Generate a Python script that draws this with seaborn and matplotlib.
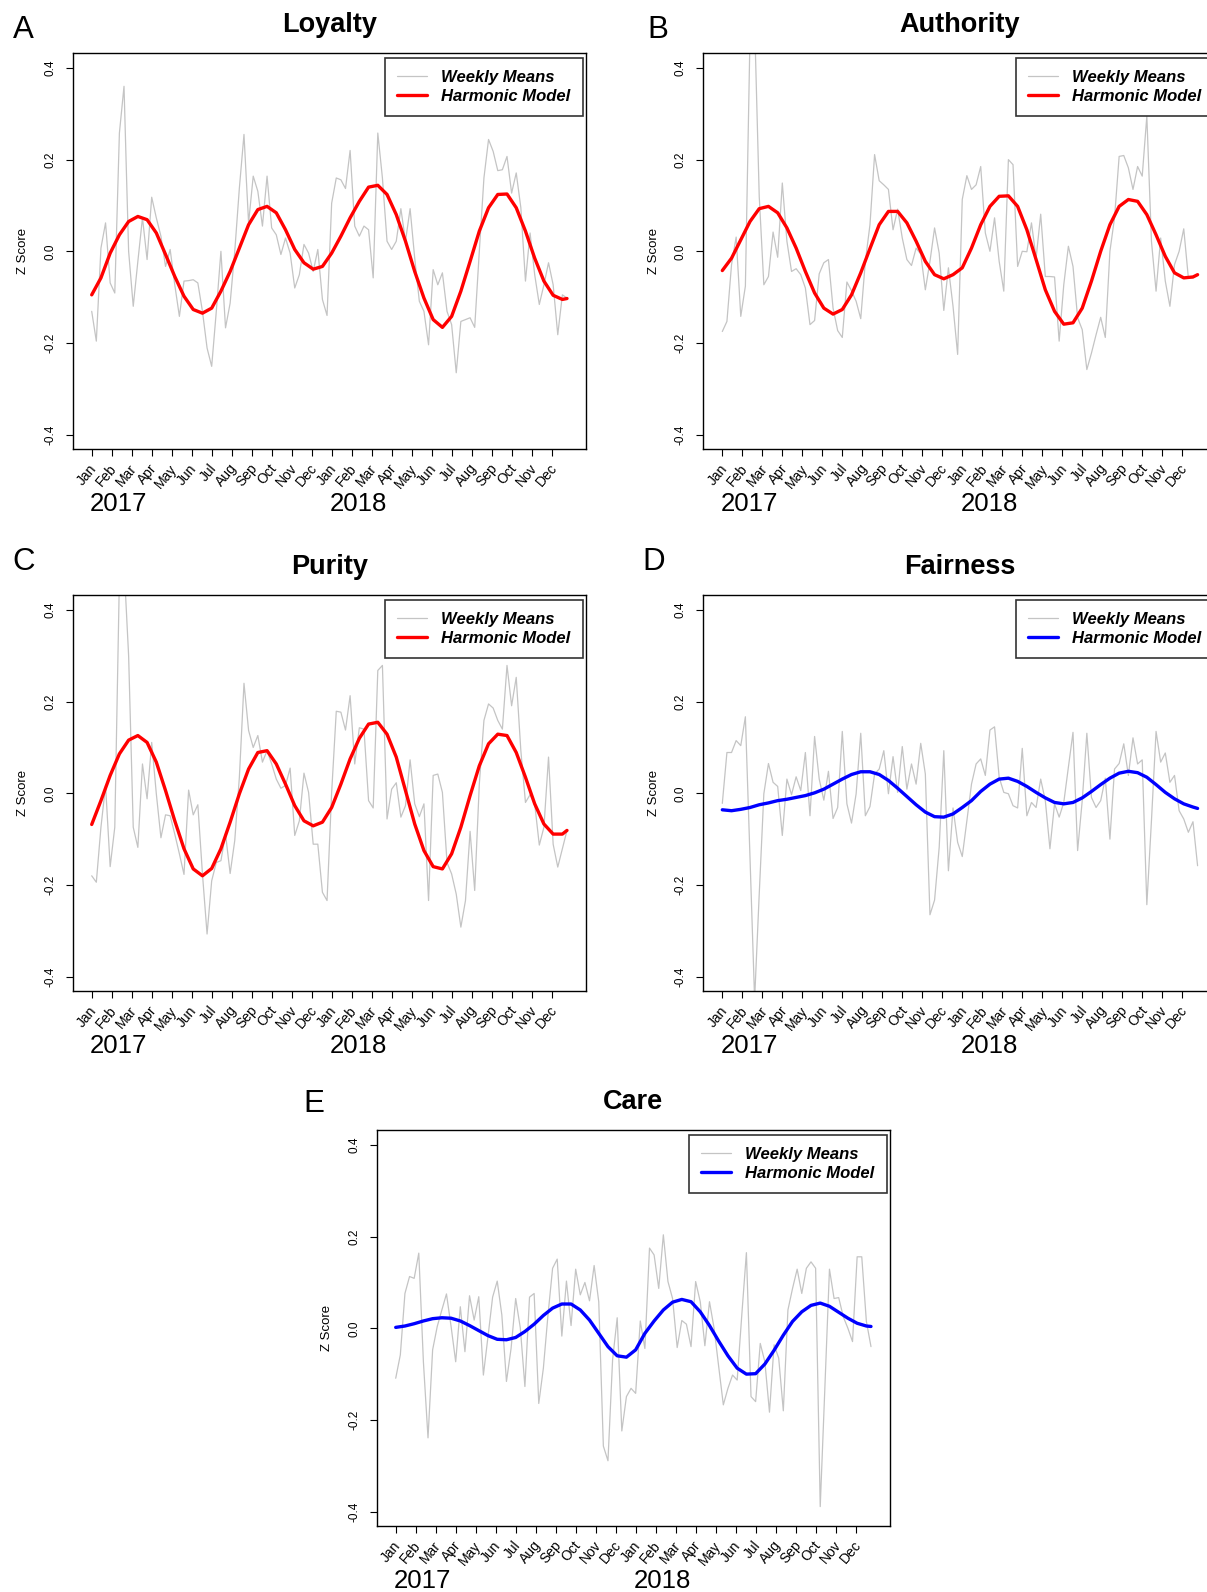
import numpy as np
import matplotlib
matplotlib.use("Agg")
import matplotlib.pyplot as plt
import matplotlib.transforms as mtransforms
import seaborn as sns

sns.set_style("white")
plt.rcParams['font.family'] = ['Liberation Sans', 'DejaVu Sans']
plt.rcParams['text.color'] = 'black'
plt.rcParams['axes.labelcolor'] = 'black'
plt.rcParams['xtick.color'] = 'black'
plt.rcParams['ytick.color'] = 'black'

# ---------------- data ----------------
months = ["Jan", "Feb", "Mar", "Apr", "May", "Jun", "Jul", "Aug", "Sep", "Oct", "Nov", "Dec"]
years = ["2017", "2018"]
weeks = list(range(1, 105))
model_weeks = list(range(1, 104, 2)) + [104]

titles = ["Loyalty", "Authority", "Purity", "Fairness", "Care"]
letters = ["A", "B", "C", "D", "E"]
model_colors = ["#FF0000", "#FF0000", "#FF0000", "#0000FF", "#0000FF"]

loyalty_weekly = [
    -0.131, -0.196, 0.007, 0.062, -0.069, -0.091, 0.258, 0.360, 0.000, -0.120,
    -0.022, 0.073, -0.018, 0.118, 0.073, 0.033, -0.033, 0.004, -0.073, -0.142,
    -0.065, -0.064, -0.062, -0.069, -0.131, -0.211, -0.251, -0.131, 0.000, -0.167,
    -0.113, 0.000, 0.138, 0.255, 0.062, 0.164, 0.131, 0.055, 0.164, 0.051,
    0.036, -0.007, 0.029, -0.004, -0.080, -0.051, 0.015, -0.004, -0.044, 0.004,
    -0.105, -0.140, 0.105, 0.160, 0.156, 0.137, 0.220, 0.055, 0.033, 0.055,
    0.047, -0.058, 0.258, 0.160, 0.022, 0.004, 0.022, 0.093, 0.022, 0.093,
    -0.015, -0.109, -0.131, -0.204, -0.040, -0.073, -0.047, -0.131, -0.160, -0.265,
    -0.153, -0.149, -0.145, -0.166, 0.000, 0.160, 0.244, 0.218, 0.176, 0.178,
    0.207, 0.127, 0.171, 0.095, -0.065, 0.040, -0.051, -0.116, -0.073, -0.025,
    -0.073, -0.182, -0.095, -0.102]
loyalty_model = [
    -0.095, -0.058, -0.004, 0.036, 0.065, 0.076, 0.069, 0.040, -0.007, -0.055,
    -0.098, -0.127, -0.135, -0.124, -0.087, -0.044, 0.007, 0.058, 0.091, 0.098,
    0.084, 0.047, 0.004, -0.025, -0.039, -0.033,
    -0.004, 0.033, 0.073, 0.109, 0.140, 0.144, 0.124, 0.080, 0.022, -0.044,
    -0.102, -0.149, -0.166, -0.142, -0.087, -0.022, 0.044, 0.095, 0.124, 0.125,
    0.095, 0.044, -0.015, -0.065, -0.096, -0.105, -0.103]

authority_weekly = [
    -0.175, -0.153, -0.029, 0.031, -0.142, -0.076, 0.470, 0.500, 0.120, -0.073,
    -0.055, 0.042, -0.013, 0.149, 0.022, -0.044, -0.038, -0.051, -0.080, -0.160,
    -0.151, -0.049, -0.025, -0.018, -0.124, -0.173, -0.188, -0.067, -0.086, -0.109,
    -0.147, -0.022, 0.058, 0.211, 0.154, 0.145, 0.135, 0.047, 0.092, 0.029,
    -0.018, -0.031, 0.007, -0.006, -0.084, -0.022, 0.051, -0.004, -0.129, -0.036,
    -0.120, -0.225, 0.113, 0.165, 0.135, 0.145, 0.185, 0.040, 0.000, 0.073,
    -0.022, -0.087, 0.200, 0.189, -0.033, 0.000, -0.001, 0.062, -0.015, 0.081,
    -0.055, -0.055, -0.056, -0.196, -0.073, 0.011, -0.033, -0.145, -0.171, -0.258,
    -0.222, -0.182, -0.144, -0.188, 0.000, 0.073, 0.207, 0.209, 0.182, 0.135,
    0.185, 0.164, 0.295, 0.022, -0.087, 0.029, -0.065, -0.120, -0.029, 0.000,
    0.049, -0.058, -0.058, -0.051]
authority_model = [
    -0.042, -0.015, 0.025, 0.065, 0.093, 0.098, 0.084, 0.051, 0.007, -0.044,
    -0.091, -0.124, -0.137, -0.127, -0.095, -0.047, 0.006, 0.058, 0.087, 0.087,
    0.062, 0.022, -0.022, -0.051, -0.060, -0.051,
    -0.036, 0.007, 0.058, 0.098, 0.120, 0.121, 0.098, 0.047, -0.018, -0.084,
    -0.131, -0.159, -0.156, -0.124, -0.065, 0.000, 0.058, 0.098, 0.113, 0.109,
    0.080, 0.036, -0.011, -0.047, -0.058, -0.056, -0.051]

purity_weekly = [
    -0.180, -0.194, -0.074, 0.017, -0.160, -0.074, 0.470, 0.500, 0.300, -0.074,
    -0.118, 0.064, -0.012, 0.111, -0.001, -0.097, -0.047, -0.049, -0.089, -0.132,
    -0.177, 0.007, -0.047, -0.025, -0.176, -0.307, -0.191, -0.151, -0.147, -0.089,
    -0.175, -0.103, 0.035, 0.240, 0.137, 0.100, 0.126, 0.068, 0.093, 0.064,
    0.031, 0.011, 0.017, 0.055, -0.092, -0.060, 0.044, 0.002, -0.111, -0.111,
    -0.216, -0.234, 0.002, 0.179, 0.177, 0.138, 0.213, 0.064, 0.143, 0.140,
    -0.016, -0.032, 0.268, 0.279, -0.056, 0.009, 0.023, -0.052, -0.027, 0.073,
    -0.023, -0.051, -0.023, -0.234, 0.039, 0.042, 0.002, -0.151, -0.176, -0.220,
    -0.292, -0.234, -0.083, -0.212, 0.020, 0.159, 0.195, 0.186, 0.159, 0.140,
    0.279, 0.191, 0.253, 0.093, -0.020, -0.003, -0.023, -0.113, -0.074, 0.079,
    -0.111, -0.161, -0.121, -0.081]
purity_model = [
    -0.068, -0.016, 0.039, 0.086, 0.116, 0.126, 0.111, 0.068, 0.006, -0.060,
    -0.121, -0.165, -0.180, -0.164, -0.121, -0.063, -0.001, 0.053, 0.089, 0.093,
    0.064, 0.020, -0.027, -0.060, -0.071, -0.063,
    -0.031, 0.020, 0.075, 0.120, 0.151, 0.155, 0.129, 0.079, 0.006, -0.067,
    -0.125, -0.160, -0.165, -0.132, -0.074, -0.005, 0.060, 0.108, 0.129, 0.126,
    0.089, 0.035, -0.023, -0.067, -0.089, -0.089, -0.081]

fairness_weekly = [
    -0.022, 0.089, 0.089, 0.115, 0.104, 0.167, -0.140, -0.450, -0.220, -0.001,
    0.065, 0.024, 0.015, -0.092, 0.031, -0.003, 0.036, 0.006, 0.089, -0.049,
    0.124, 0.031, -0.015, 0.048, -0.055, -0.031, 0.135, -0.023, -0.065, -0.001,
    0.131, -0.049, -0.029, 0.042, 0.053, 0.093, -0.001, 0.080, 0.002, 0.102,
    0.009, 0.064, 0.020, 0.109, 0.042, -0.265, -0.233, -0.118, 0.093, -0.169,
    -0.032, -0.107, -0.138, -0.060, 0.020, 0.064, 0.075, 0.039, 0.138, 0.145,
    0.035, 0.002, -0.001, -0.027, -0.032, 0.098, -0.049, -0.020, -0.031, 0.031,
    -0.016, -0.121, -0.023, -0.052, -0.020, 0.057, 0.133, -0.125, -0.016, 0.131,
    -0.009, -0.031, -0.016, 0.033, -0.100, 0.053, 0.065, 0.108, 0.039, 0.121,
    0.064, 0.073, -0.243, -0.060, 0.135, 0.068, 0.088, 0.024, 0.039, -0.038,
    -0.056, -0.085, -0.062, -0.158]
fairness_model = [
    -0.036, -0.038, -0.035, -0.031, -0.025, -0.021, -0.016, -0.013, -0.009, -0.005,
    0.001, 0.009, 0.020, 0.031, 0.041, 0.047, 0.047, 0.041, 0.028, 0.011,
    -0.007, -0.025, -0.041, -0.051, -0.052, -0.045,
    -0.031, -0.016, 0.004, 0.020, 0.031, 0.033, 0.026, 0.015, 0.002, -0.010,
    -0.020, -0.023, -0.020, -0.010, 0.004, 0.019, 0.033, 0.044, 0.048, 0.045,
    0.035, 0.019, 0.002, -0.012, -0.023, -0.030, -0.033]

care_weekly = [
    -0.109, -0.058, 0.076, 0.113, 0.109, 0.164, -0.073, -0.239, -0.047, 0.004,
    0.040, 0.075, 0.004, -0.073, 0.047, -0.051, 0.071, 0.018, 0.069, -0.102,
    -0.018, 0.068, 0.103, 0.029, -0.116, -0.044, 0.065, 0.001, -0.127, 0.068,
    0.076, -0.164, -0.087, 0.029, 0.131, 0.151, -0.017, 0.103, 0.006, 0.129,
    0.073, 0.100, 0.060, 0.137, 0.058, -0.257, -0.289, -0.069, 0.023, -0.224,
    -0.149, -0.131, -0.142, 0.016, -0.044, 0.175, 0.160, 0.087, 0.204, 0.102,
    0.065, -0.042, 0.017, 0.009, -0.040, 0.102, 0.058, -0.038, 0.058, 0.000,
    -0.084, -0.167, -0.131, -0.102, -0.113, 0.029, 0.165, -0.149, -0.160, -0.033,
    -0.073, -0.183, -0.036, -0.065, -0.180, 0.040, 0.087, 0.129, 0.076, 0.131,
    0.145, 0.131, -0.389, -0.131, 0.129, 0.065, 0.067, 0.025, 0.000, -0.029,
    0.156, 0.156, 0.015, -0.040]
care_model = [
    0.002, 0.005, 0.010, 0.016, 0.021, 0.023, 0.022, 0.016, 0.006, -0.005,
    -0.016, -0.024, -0.025, -0.020, -0.007, 0.009, 0.028, 0.044, 0.053, 0.053,
    0.040, 0.018, -0.011, -0.040, -0.060, -0.063,
    -0.047, -0.011, 0.016, 0.040, 0.057, 0.063, 0.058, 0.036, 0.006, -0.028,
    -0.060, -0.087, -0.100, -0.099, -0.078, -0.048, -0.015, 0.015, 0.036, 0.050,
    0.055, 0.048, 0.035, 0.022, 0.011, 0.005, 0.004]

weekly_series = [loyalty_weekly, authority_weekly, purity_weekly, fairness_weekly, care_weekly]
model_series = [loyalty_model, authority_model, purity_model, fairness_model, care_model]

y_ticks = [-0.4, -0.2, 0.0, 0.2, 0.4]
y_ticklabels = ["-0.4", "-0.2", "0.0", "0.2", "0.4"]

# ---------------- layout (pixels) ----------------
W, H = 1207, 1592
AX_W, AX_H = 513.3, 396.0
panel_pos = [(72.7, 53.3), (703.3, 53.3), (72.7, 595.3), (703.3, 595.3), (376.7, 1130.3)]
letter_pos = [(13, 38.5), (647, 38.5), (12, 569.5), (642.5, 569.5), (303.5, 1111.5)]

fig = plt.figure(figsize=(W / 100, H / 100), dpi=100)

month_ticks = [1 + k * 52 / 12 for k in range(24)]
month_labels = months * 2

for i in range(5):
    left, top = panel_pos[i]
    ax = fig.add_axes([left / W, 1 - (top + AX_H) / H, AX_W / W, AX_H / H])
    sns.lineplot(x=weeks, y=weekly_series[i], color="#c4c4c4", lw=0.9, ax=ax,
                 label="Weekly Means", estimator=None)
    sns.lineplot(x=model_weeks, y=model_series[i], color=model_colors[i], lw=2.4, ax=ax,
                 label="Harmonic Model", estimator=None,
                 solid_joinstyle="round", solid_capstyle="round")
    ax.set_xlim(1 - 0.04 * 103, 104 + 0.04 * 103)
    ax.set_ylim(-0.432, 0.432)
    ax.set_yticks(y_ticks)
    ax.set_yticklabels(y_ticklabels, rotation=90, va="center")
    ax.set_xticks(month_ticks)
    ax.set_xticklabels([])
    ax.tick_params(axis="both", direction="out", length=5, width=0.8, color="black",
                   labelsize=8.5, pad=7, bottom=True, left=True, labelcolor="black")
    for sp in ax.spines.values():
        sp.set_visible(True)
        sp.set_color("black")
        sp.set_linewidth(1.0)
    ax.set_xlabel("")
    ax.set_ylabel("")
    ax.grid(False)

    trans = mtransforms.blended_transform_factory(ax.transData, ax.transAxes)
    for pos, lab in zip(month_ticks, month_labels):
        ax.text(pos + 0.6, -0.042, lab, transform=trans, rotation=50, ha="right",
                va="center", rotation_mode="anchor", fontsize=10, clip_on=False,
                color="black")
    ax.text(0.6, -0.138, years[0], transform=trans, ha="left", va="center",
            fontsize=18.5, clip_on=False, color="black")
    ax.text(52.6, -0.138, years[1], transform=trans, ha="left", va="center",
            fontsize=18.5, clip_on=False, color="black")

    ax.text(-49.5 / AX_W, 0.5, "Z Score", transform=ax.transAxes, rotation=90,
            ha="center", va="center", fontsize=9.5, color="black")
    ax.text(0.5, 1 + 28 / AX_H, titles[i], transform=ax.transAxes, ha="center",
            va="center", fontsize=19.5, fontweight="bold", color="black")

    leg = ax.legend(loc="upper right", bbox_to_anchor=(1 - 3.3 / AX_W, 1 - 5 / AX_H),
                    borderaxespad=0, frameon=True, fancybox=False, edgecolor="#333333",
                    prop={"weight": "bold", "style": "italic", "size": 12},
                    handlelength=1.8, handletextpad=0.86, borderpad=0.72,
                    labelspacing=0.22, framealpha=1)
    leg.get_frame().set_linewidth(1.2)
    for t in leg.get_texts():
        t.set_color("black")

    lx, ly = letter_pos[i]
    fig.text(lx / W, 1 - ly / H, letters[i], fontsize=22.5, ha="left", va="baseline",
             color="black")

fig.savefig("out.png", dpi=100)
